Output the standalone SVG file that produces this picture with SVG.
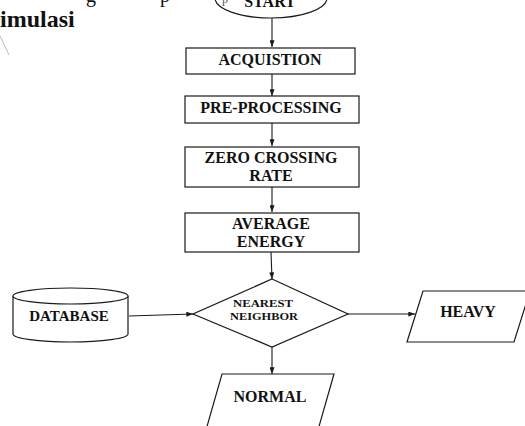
<svg xmlns="http://www.w3.org/2000/svg" width="525" height="426" viewBox="0 0 525 426">
<style>
.s{fill:#fff;stroke:#1a1a1a;stroke-width:1.2}
.t{font-family:"Liberation Serif","Times New Roman",serif;font-weight:bold;fill:#111;text-anchor:middle;font-size:16px}
.sm{font-size:9.5px}
.c{stroke:#1a1a1a;stroke-width:1.1;fill:none;marker-end:url(#a)}
</style>
<defs>
<marker id="a" viewBox="0 0 8 6" refX="8" refY="3" markerWidth="7" markerHeight="5" orient="auto" markerUnits="userSpaceOnUse">
<path d="M0,0L8,3L0,6z" fill="#1a1a1a"/>
</marker>
</defs>
<rect width="525" height="426" fill="#fff"/>
<g id="caption">
<text x="86" y="2" font-family="Liberation Serif,serif" font-size="20" fill="#111">g</text>
<text x="160" y="2" font-family="Liberation Serif,serif" font-size="20" fill="#111">p</text>
<text x="0" y="27" font-family="Liberation Serif,serif" font-size="24" font-weight="bold" fill="#111">imulasi</text>
<line x1="0" y1="36" x2="9" y2="55" stroke="#bbb" stroke-width="1"/>
</g>
<g id="connectors">
<line class="c" x1="272" y1="18" x2="272" y2="47"/>
<line class="c" x1="272" y1="74" x2="272" y2="96"/>
<line class="c" x1="272" y1="123" x2="272" y2="146"/>
<line class="c" x1="272" y1="187" x2="272" y2="212"/>
<line class="c" x1="271" y1="252" x2="272" y2="279"/>
<line class="c" x1="129" y1="316" x2="193" y2="314"/>
<line class="c" x1="348" y1="314" x2="415" y2="314"/>
<line class="c" x1="272" y1="347" x2="272" y2="374"/>
</g>
<g id="start">
<ellipse class="s" cx="271" cy="-2" rx="56" ry="20"/>
<text x="222" y="3" font-family="Liberation Serif,serif" font-size="12" fill="#555">p</text>
<text class="t" x="270" y="7">START</text>
</g>
<g id="acquistion">
<rect class="s" x="186" y="48" width="169" height="26"/>
<text class="t" x="270" y="65">ACQUISTION</text>
</g>
<g id="preprocessing">
<rect class="s" x="185" y="96" width="174" height="27"/>
<text class="t" x="271" y="113">PRE-PROCESSING</text>
</g>
<g id="zcr">
<rect class="s" x="185" y="147" width="174" height="40"/>
<text class="t" x="271" y="163">ZERO CROSSING</text>
<text class="t" x="271" y="181">RATE</text>
</g>
<g id="energy">
<rect class="s" x="185" y="213" width="174" height="39"/>
<text class="t" x="271" y="229">AVERAGE</text>
<text class="t" x="271" y="247">ENERGY</text>
</g>
<g id="database">
<path class="s" d="M13,296 V334 A57.5,8 0 0 0 128,334 V296 A57.5,8 0 0 0 13,296 Z"/>
<path class="s" d="M13,296 A57.5,8 0 0 0 128,296" fill="none"/>
<text class="t" x="69" y="321" style="font-size:15px">DATABASE</text>
</g>
<g id="nn">
<polygon class="s" points="272,279 348,314 272,347 193,314"/>
<text class="t sm" x="263" y="307" textLength="60" lengthAdjust="spacingAndGlyphs">NEAREST</text>
<text class="t sm" x="264" y="320" textLength="68" lengthAdjust="spacingAndGlyphs">NEIGHBOR</text>
</g>
<g id="heavy">
<polygon class="s" points="423,291 530,291 514,342 407,342"/>
<text class="t" x="468" y="317">HEAVY</text>
</g>
<g id="normal">
<polygon class="s" points="222,374 334,374 318,430 206,430"/>
<text class="t" x="270" y="402">NORMAL</text>
</g>
</svg>
